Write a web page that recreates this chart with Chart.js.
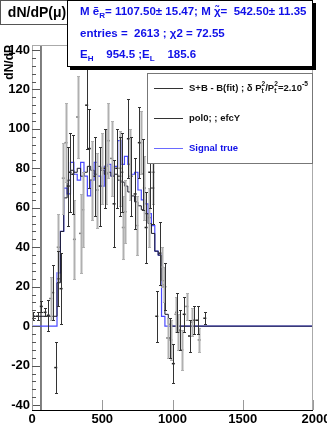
<!DOCTYPE html>
<html>
<head>
<meta charset="utf-8">
<script src="https://cdn.jsdelivr.net/npm/chart.js"></script>
<style>
html,body{margin:0;padding:0;background:#fff}
#wrap{width:327px;height:427px}
</style>
</head>
<body>
<div id="wrap"><canvas id="c" width="327" height="427"></canvas></div>
<script>
// histogram bins (start + width)
const binStart=178
const binW=24
const sigTrue=[27,48,70,67,83,77,74,83,76,66,74,83,76,71,81,82,76,81,94,82,86,82,77,78,69,64,62,57,51,38,36,5]
const fitHist=[22,48,65,74,79,78,80,76,78,81,79,77,81,79,77,78,76,77,74,73,71,68,66,63,61,59,57,52,47,38,36,23,6,1]
const fitLow=5

// black points
const blackX=[10,40,66,93,116,147,169,188,207,258,271,290,389,408,445,484,520,584,603,625,639,686,705,734,764,788,812,838,860,888,912,945,983,1006,1030,1050,1083,1121,1154,1178,1230]
const blackY=[5,5,10,7,5.5,17,-21,24,19,71,78,77,112,90,76,71,80,62,80,76,78,95,76,67,93,77,50,78,70,5,37,20,-6,-19,7,-2,6,-5,3,3,4]
const blackErr=[2,2,3,2,8,14,13,14,18,20,20,20,22,20,20,20,20,22,20,20,20,20,20,18,18,18,18,18,18,13,16,12,10,10,10,10,9,8,7,7,3]

// grey points
const grayX=[133,187,223,242,302,325,346,361,425,465,500,527,544,567,627,650,663,700,746,774,800,836,864,924,936,966,988,1025,1042,1066,1102,1137,1190]
const grayY=[14,40,75,93,44,106,47,59,74,69,80,81,94,85,80,50,58,82,51,93,70,55,78,30,21,-6,-7,6,-3,-12,10,2,-7]
const grayErr=[11,17,18,20,20,21,20,19,20,19,18,19,19,19,19,16,16,18,15,16,16,15,16,10,9,10,10,9,9,10,7,7,6]

const cutX=64
const xMin=0, xMax=2000, yMin=-42.5, yMax=142.5
const xTicks=[0,500,1000,1500,2000]
const yTicks=[-40,-20,0,20,40,60,80,100,120,140]

const FONT='"Liberation Sans", Arial, Helvetica, sans-serif'
const BLUE='#1010e8'

function stepData(vals,low){
	let d=[{x:xMin,y:low},{x:binStart,y:vals[0]}]
	for(let i=1;i<vals.length;i++) d.push({x:binStart+i*binW,y:vals[i]})
	d.push({x:binStart+vals.length*binW,y:0})
	d.push({x:xMax,y:0})
	return d
}

function pts(xs,ys){ return xs.map((x,i)=>({x:x,y:ys[i]})) }

// draw text pieces with sub/superscripts
function rich(ctx,x,y,parts,size,color){
	ctx.fillStyle=color
	ctx.textBaseline='middle'
	ctx.textAlign='left'
	parts.forEach(p=>{
		let s=size*(p[2]||1)
		ctx.font='bold '+s+'px '+FONT
		ctx.fillText(p[0],x,y+(p[1]||0))
		if(!p[3]) x+=ctx.measureText(p[0]).width
	})
}

const errBars={
	id:'errBars',
	afterDatasetsDraw(chart){
		const ctx=chart.ctx, xs=chart.scales.x, ys=chart.scales.y, a=chart.chartArea
		ctx.save()
		ctx.beginPath()
		ctx.rect(a.left,a.top,a.right-a.left,a.bottom-a.top)
		ctx.clip()
		const sets=[[grayX,grayY,grayErr,'#b0b0b0',2],[blackX,blackY,blackErr,'#333',1]]
		sets.forEach(s=>{
			ctx.strokeStyle=s[3]
			ctx.lineWidth=s[4]
			for(let i=0;i<s[0].length;i++){
				let px=Math.round(xs.getPixelForValue(s[0][i]))+0.5
				let top=Math.round(ys.getPixelForValue(s[1][i]+s[2][i]))+0.5
				let bot=Math.round(ys.getPixelForValue(s[1][i]-s[2][i]))+0.5
				ctx.beginPath()
				ctx.moveTo(px,top);ctx.lineTo(px,bot)
				ctx.stroke()
				ctx.lineWidth=1
				ctx.beginPath()
				ctx.moveTo(px-1.5,top);ctx.lineTo(px+1.5,top)
				ctx.moveTo(px-1.5,bot);ctx.lineTo(px+1.5,bot)
				ctx.stroke()
				ctx.lineWidth=s[4]
			}
		})
		ctx.restore()
	}
}

const frame={
	id:'frame',
	afterDraw(chart){
		const ctx=chart.ctx, xs=chart.scales.x, ys=chart.scales.y, a=chart.chartArea
		ctx.save()
		// frame
		ctx.strokeStyle='#aaa'
		ctx.lineWidth=1
		ctx.strokeRect(a.left+0.5,a.top+0.5,a.right-a.left-1,a.bottom-a.top)
		ctx.strokeStyle='#000'
		ctx.beginPath()
		ctx.moveTo(a.left,a.bottom+0.5);ctx.lineTo(a.right,a.bottom+0.5)
		ctx.stroke()
		// y ticks (inside)
		ctx.strokeStyle='#555'
		ctx.beginPath()
		for(let v=-40;v<=140;v+=4){
			let py=Math.round(ys.getPixelForValue(v))+0.5
			let len=(v%20===0)?8:4
			ctx.moveTo(a.left,py);ctx.lineTo(a.left+len,py)
		}
		ctx.stroke()
		// x ticks
		ctx.strokeStyle='#999'
		ctx.beginPath()
		xTicks.forEach(v=>{
			let px=Math.round(xs.getPixelForValue(v))+0.5
			ctx.moveTo(px,a.bottom);ctx.lineTo(px,a.bottom-10)
		})
		ctx.stroke()
		// tick labels
		ctx.fillStyle='#000'
		ctx.font='bold 13px '+FONT
		ctx.textAlign='right'
		ctx.textBaseline='middle'
		yTicks.forEach(v=>ctx.fillText(String(v),a.left-2,ys.getPixelForValue(v)))
		ctx.textAlign='center'
		xTicks.forEach(v=>ctx.fillText(String(v),xs.getPixelForValue(v)+(v===xMax?3:0),419))
		// y title
		ctx.save()
		ctx.translate(10,45)
		ctx.rotate(-Math.PI/2)
		ctx.textAlign='right'
		ctx.font='bold 12px '+FONT
		ctx.fillText('dN/dP',0,0)
		ctx.restore()

		// title box
		ctx.fillStyle='#fff'
		ctx.fillRect(0,0,73,25)
		ctx.strokeStyle='#555'
		ctx.strokeRect(0.5,0.5,72,24)
		ctx.fillStyle='#000'
		ctx.font='bold 14px '+FONT
		ctx.textAlign='center'
		ctx.fillText('dN/dP(\u03bc)',37,13)

		// stats box
		ctx.fillStyle='#000'
		ctx.fillRect(70,3,246,67)
		ctx.fillStyle='#fff'
		ctx.fillRect(67,0,246,67)
		ctx.strokeStyle='#000'
		ctx.strokeRect(67.5,0.5,245,66)
		rich(ctx,80,12,[['M \u1ebd'],['R',4,0.7],['= 1107.50\u00b1 15.47; M \u03c7\u0303=  542.50\u00b1 11.35']],11.5,BLUE)
		rich(ctx,80,34,[['entries =  2613 ; \u03c72 = 72.55']],11.5,BLUE)
		rich(ctx,80,55,[['E'],['H',4,0.7],['    954.5 ;E'],['L',4,0.7],['    185.6']],11.5,BLUE)

		// legend box
		ctx.fillStyle='#fff'
		ctx.fillRect(147,73,166,91)
		ctx.strokeStyle='#777'
		ctx.strokeRect(147.5,73.5,165,90)
		const rows=[[88,'#333'],[118,'#333'],[148,'#6a6aff']]
		rows.forEach(r=>{
			ctx.strokeStyle=r[1]
			ctx.beginPath();ctx.moveTo(154,r[0]+0.5);ctx.lineTo(183,r[0]+0.5);ctx.stroke()
		})
		rich(ctx,189,88,[['S+B - B(fit) ; \u03b4 P'],['t',3,0.7,1],['2',-4,0.7],['/P'],['t',3,0.7,1],['2',-4,0.7],['=2.10'],['-5',-4,0.7]],9.5,'#111')
		rich(ctx,189,118,[['pol0; ; efcY']],9.5,'#111')
		rich(ctx,189,148,[['Signal true']],9.5,BLUE)
		ctx.restore()
	}
}

new Chart(document.getElementById('c'),{
	type:'scatter',
	data:{
		datasets:[
			{
				label:'Signal true',
				data:stepData(sigTrue,0),
				showLine:true,stepped:true,
				borderColor:'#4a4aff',borderWidth:1.2,
				pointRadius:0,order:4
			},
			{
				label:'pol0',
				data:stepData(fitHist,fitLow),
				showLine:true,stepped:true,
				borderColor:'#1a1a2a',borderWidth:1,
				pointRadius:0,order:3
			},
			{
				label:'cut',
				data:[{x:cutX,y:yMin},{x:cutX,y:yMax}],
				showLine:true,borderColor:'#000',borderWidth:1,
				pointRadius:0,order:5
			},
			{
				label:'grey',
				data:pts(grayX,grayY),
				pointStyle:'line',pointRadius:1.5,
				borderColor:'#666',borderWidth:1.5,order:2
			},
			{
				label:'S+B - B(fit)',
				data:pts(blackX,blackY),
				pointStyle:'line',pointRadius:1.5,
				borderColor:'#222',borderWidth:1.5,order:1
			}
		]
	},
	options:{
		responsive:false,
		animation:false,
		events:[],
		layout:{padding:{left:32,right:14,top:45,bottom:17}},
		plugins:{legend:{display:false},tooltip:{enabled:false},title:{display:false}},
		scales:{
			x:{type:'linear',min:xMin,max:xMax,display:false},
			y:{type:'linear',min:yMin,max:yMax,display:false}
		}
	},
	plugins:[errBars,frame]
})
</script>
</body>
</html>
